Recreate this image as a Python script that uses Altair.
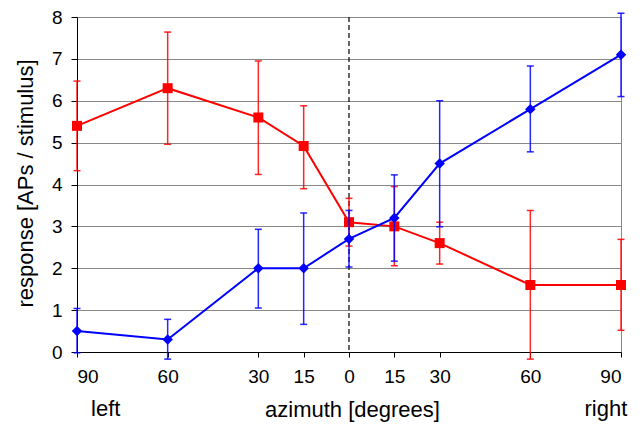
import altair as alt
import pandas as pd

azimuth = [-90, -60, -30, -15, 0, 15, 30, 60, 90]

red_mean = [5.4, 6.3, 5.6, 4.92, 3.1, 3.0, 2.6, 1.6, 1.6]
red_lo = [4.33, 4.96, 4.24, 3.9, 2.53, 2.06, 2.1, -0.17, 0.52]
red_hi = [6.47, 7.64, 6.95, 5.88, 3.67, 3.95, 3.1, 3.38, 2.69]

blue_mean = [0.5, 0.3, 2.0, 2.0, 2.7, 3.2, 4.5, 5.8, 7.1]
blue_lo = [-0.02, -0.17, 1.05, 0.66, 2.03, 2.17, 2.99, 4.78, 6.1]
blue_hi = [1.04, 0.78, 2.93, 3.32, 3.38, 4.23, 6.0, 6.83, 8.09]

tick_values = [-90, -60, -30, -15, 0, 15, 30, 60, 90]
side_text = ["left", "right"]
side_pos = [-80.5, 85]

FONT = "Liberation Sans"

red = pd.DataFrame({"az": azimuth, "m": red_mean, "lo": red_lo, "hi": red_hi})
blue = pd.DataFrame({"az": azimuth, "m": blue_mean, "lo": blue_lo, "hi": blue_hi})
sides = pd.DataFrame({"t": side_text, "az": side_pos})

xscale = alt.Scale(domain=[-90, 90], nice=False, zero=False)
yscale = alt.Scale(domain=[0, 8], nice=False)

xaxis = alt.Axis(
    values=tick_values,
    labelExpr="abs(datum.value)",
    grid=False,
    domainColor="black",
    tickColor="black",
    tickSize=5,
    labelPadding=10,
    labelFontSize=19,
    labelFont=FONT,
    labelColor="black",
    title="azimuth [degrees]",
    titleFont=FONT,
    titleFontSize=22,
    titleFontWeight="normal",
    titleColor="black",
    titleX=275,
    titleY=64,
    titleBaseline="alphabetic",
)
yaxis = alt.Axis(
    values=list(range(0, 9)),
    grid=True,
    gridColor="#888888",
    gridWidth=1,
    domainColor="black",
    tickColor="black",
    tickSize=6,
    labelPadding=9,
    labelFontSize=19,
    labelFont=FONT,
    labelColor="black",
    title="response [APs / stimulus]",
    titleFont=FONT,
    titleFontSize=22,
    titleFontWeight="normal",
    titleColor="black",
    titleAngle=-90,
    titleX=-52,
    titleY=166,
    titleAlign="center",
    titleBaseline="middle",
)

zero_df = pd.DataFrame({"az": [0]})
zero_line = alt.Chart(zero_df).mark_rule(color="black", strokeWidth=1.2, strokeDash=[5, 3]).encode(
    x=alt.X("az:Q", scale=xscale, axis=xaxis),
    y=alt.value(0),
    y2=alt.value(335),
)


def series(df, color, shape, size):
    base = alt.Chart(df)
    x = alt.X("az:Q", scale=xscale, axis=xaxis)
    bars = base.mark_rule(color=color, strokeWidth=1.5, opacity=0.85).encode(
        x=x, y=alt.Y("lo:Q", scale=yscale, axis=yaxis), y2="hi:Q"
    )
    cap_lo = base.mark_tick(color=color, orient="horizontal", size=7, thickness=1.5, opacity=0.85).encode(
        x=x, y=alt.Y("lo:Q", scale=yscale, axis=yaxis)
    )
    cap_hi = base.mark_tick(color=color, orient="horizontal", size=7, thickness=1.5, opacity=0.85).encode(
        x=x, y=alt.Y("hi:Q", scale=yscale, axis=yaxis)
    )
    line = base.mark_line(color=color, strokeWidth=2).encode(
        x=x, y=alt.Y("m:Q", scale=yscale, axis=yaxis)
    )
    pts = base.mark_point(shape=shape, filled=True, color=color, size=size, opacity=1).encode(
        x=x, y=alt.Y("m:Q", scale=yscale, axis=yaxis)
    )
    return [bars, cap_lo, cap_hi, line, pts]


side_labels = alt.Chart(sides).mark_text(
    font=FONT, fontSize=22, color="black", baseline="alphabetic", align="center"
).encode(
    x=alt.X("az:Q", scale=xscale, axis=xaxis),
    y=alt.value(399),
    text="t:N",
)

chart = alt.layer(
    zero_line,
    *series(red, "#ff0000", "square", 100),
    *series(blue, "#0000ff", "diamond", 110),
    side_labels,
).properties(
    width=544,
    height=335,
    autosize=alt.AutoSizeParams(type="none"),
    padding={"left": 69, "top": 9, "right": 14, "bottom": 72},
).configure_view(
    stroke="#888888", strokeWidth=1
)

chart.save("out.html", embed_options={"renderer": "svg", "actions": False})
